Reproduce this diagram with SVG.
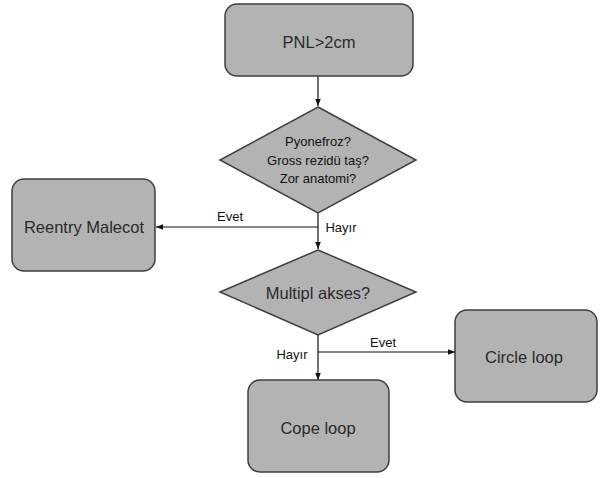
<svg xmlns="http://www.w3.org/2000/svg" width="602" height="478" viewBox="0 0 602 478">
<defs>
<style>
.n{fill:#b3b3b3;stroke:#3f3f3f;stroke-width:1.5}
.t{font-family:"Liberation Sans",Arial,sans-serif;font-size:16.5px;fill:#2a2a2a;text-anchor:middle}
.s{font-family:"Liberation Sans",Arial,sans-serif;font-size:13px;fill:#111;text-anchor:middle}
.c{stroke:#111;stroke-width:1.2;fill:none;marker-end:url(#a)}
</style>
<marker id="a" viewBox="0 0 10 10" refX="10" refY="5" markerWidth="7" markerHeight="7" markerUnits="userSpaceOnUse" orient="auto">
<path d="M0,1 L10,5 L0,9 z" fill="#111"/>
</marker>
</defs>
<rect width="602" height="478" fill="#fff"/>
<g id="connectors">
<line class="c" x1="318" y1="76" x2="318" y2="106"/>
<line class="c" x1="318" y1="213" x2="318" y2="249"/>
<line class="c" x1="318" y1="227" x2="156" y2="227"/>
<line class="c" x1="318" y1="335" x2="318" y2="380"/>
<line class="c" x1="318" y1="352" x2="455" y2="352"/>
<text class="s" x="230" y="221">Evet</text>
<text class="s" x="341" y="232">Hayır</text>
<text class="s" x="292" y="359">Hayır</text>
<text class="s" x="383" y="347">Evet</text>
</g>
<g id="pnl">
<rect class="n" x="225" y="4" width="188" height="72" rx="12"/>
<text class="t" x="319" y="48">PNL&gt;2cm</text>
</g>
<g id="d1">
<polygon class="n" points="318,107 416,160 318,213 220,160"/>
<text class="s" x="318" y="146">Pyonefroz?</text>
<text class="s" x="318" y="165">Gross rezidü taş?</text>
<text class="s" x="318" y="183">Zor anatomi?</text>
</g>
<g id="reentry">
<rect class="n" x="12" y="179" width="143" height="92" rx="12"/>
<text class="t" x="84" y="233">Reentry  Malecot</text>
</g>
<g id="d2">
<polygon class="n" points="318,250 416,292 318,335 220,292"/>
<text class="t" x="318" y="299">Multipl  akses?</text>
</g>
<g id="circle">
<rect class="n" x="455" y="310" width="142" height="92" rx="12"/>
<text class="t" x="524" y="363">Circle loop</text>
</g>
<g id="cope">
<rect class="n" x="248" y="380" width="141" height="92" rx="12"/>
<text class="t" x="318" y="434">Cope loop</text>
</g>
</svg>
